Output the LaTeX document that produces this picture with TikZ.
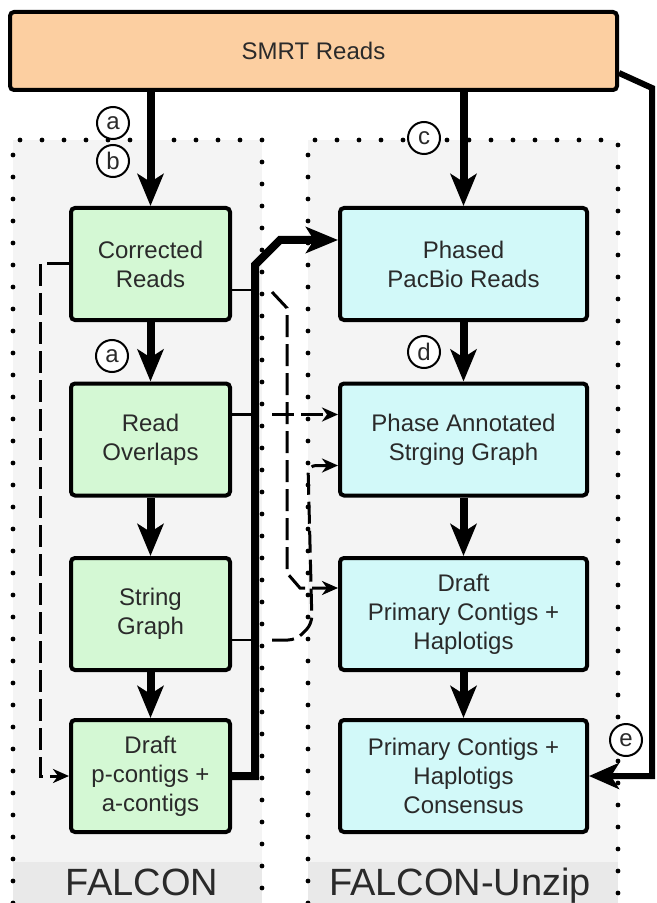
\documentclass[tikz,border=0pt]{standalone}
\usepackage{fontspec}
\setmainfont{Liberation Sans}
\usepackage{xcolor}
\usepackage{tikz}
\usetikzlibrary{arrows.meta,shapes,calc}
\definecolor{smrtOrange}{HTML}{FCCFA1}
\definecolor{falconGreen}{HTML}{D4F8D4}
\definecolor{unzipCyan}{HTML}{D2F9F9}
\definecolor{panelGray}{HTML}{F4F4F4}
\definecolor{labelGray}{HTML}{E9E9E9}
\definecolor{txt}{HTML}{2A2A2A}
\tikzstyle{stage}  = [rectangle,draw,line width=2pt,rounded corners=2pt,text=txt,align=center,font=\fontsize{12}{14.5}\selectfont,minimum height=56pt]
\tikzstyle{falcon} = [stage,fill=falconGreen,minimum width=79.5pt]
\tikzstyle{unzip}  = [stage,fill=unzipCyan,minimum width=123.5pt]
\tikzstyle{tag}    = [circle,draw,fill=white,line width=1pt,inner sep=0pt,minimum size=16pt,text=txt,font=\fontsize{12}{12}\selectfont]
\tikzstyle{flow}   = [line width=4pt,-{Stealth[length=16pt,width=13pt,inset=4pt]}]
\tikzstyle{link}   = [line width=1.5pt,dash pattern=on 11pt off 3.5pt,-{Stealth[length=8pt,width=7pt,inset=2.5pt]}]
\tikzstyle{stub}   = [line width=1.1pt]
\tikzstyle{border} = [line width=2.4pt,line cap=round,dash pattern=on 0pt off 11pt]
\tikzstyle{title}  = [anchor=base,text=txt,font=\fontsize{19}{19}\selectfont]

\begin{document}
\begin{tikzpicture}[x=0.5pt,y=-0.5pt]
	\useasboundingbox (0,0) rectangle (657,903);

	\fill[panelGray] (13,140) rectangle (262,903);
	\fill[panelGray] (308,140) rectangle (618,903);
	\fill[labelGray] (13,862) rectangle (262,903);
	\fill[labelGray] (308,862) rectangle (618,903);
	\draw[border] (13,903) -- (13,140) -- (262,140) -- (262,903);
	\draw[border] (308,903) -- (308,140) -- (618,140) -- (618,903);

	\node[title] (lfalcon) at (142,895) {FALCON};
	\node[title] (lunzip)  at (460,895) {FALCON-Unzip};

	\node[stage,fill=smrtOrange,minimum width=303.5pt,minimum height=39pt] (smrt) at (313.5,51) {SMRT Reads};

	\node[falcon] (cr) at (150.5,264)   {Corrected\\Reads};
	\node[falcon] (ro) at (150.5,439.5) {Read\\Overlaps};
	\node[falcon] (sg) at (150.5,614)   {String\\Graph};
	\node[falcon] (dr) at (150.5,776)   {Draft\\p-contigs +\\a-contigs};

	\node[unzip] (ph) at (463.5,264)   {Phased\\PacBio Reads};
	\node[unzip] (pa) at (463.5,439.5) {Phase Annotated\\Strging Graph};
	\node[unzip] (dp) at (463.5,614)   {Draft\\Primary Contigs +\\Haplotigs};
	\node[unzip] (pc) at (463.5,776)   {Primary Contigs +\\Haplotigs\\Consensus};

	\coordinate (phin) at ($(ph.west)+(0,-24)$);

	\path[flow] (cr.north |- smrt.south) edge (cr);
	\path[flow] (ph.north |- smrt.south) edge (ph);
	\path[flow] (cr) edge (ro);
	\path[flow] (ro) edge (sg);
	\path[flow] (sg) edge (dr);
	\path[flow] (ph) edge (pa);
	\path[flow] (pa) edge (dp);
	\path[flow] (dp) edge (pc);

	\draw[flow] (dr.east) -- (255,776) -- (255,265) -- (280,240) -- (phin);
	\draw[line width=3pt,-{Stealth[length=15pt,width=13pt,inset=4pt]}] ($(smrt.east)+(0,22)$) -- (652,88) -- (652,776) -- (pc.east);

	\draw[link] (cr.west) -- ++(-29,0) |- (dr.west);

	\draw[stub] ($(cr.east)+(0,26)$) -- ++(25,0);
	\draw[stub] ($(ro.east)+(0,-25)$) -- ++(25,0);
	\draw[stub] ($(sg.east)+(0,26)$) -- ++(25,0);

	\draw[link] ($(cr.east)+(40,28)$) -- ++(15,16) -- ++(0,265) -- ++(13,15) -- ($(dp.west)+(0,-26)$);
	\draw[link] ($(ro.east)+(40,-25)$) -- ($(pa.west)+(0,-25)$);
	\draw[link,rounded corners=4pt] ($(sg.east)+(40,26)$) -- ++(24,0) -- ++(16,-16) -- ($(pa.west)+(-30,26)$) -- ($(pa.west)+(0,26)$);

	\node[tag] (ta) at (113,123) {a};
	\node[tag] (tb) at (113,161) {b};
	\node[tag] (tc) at (424,138) {c};
	\node[tag] (taa) at (112,356) {a};
	\node[tag] (td) at (424,352) {d};
	\node[tag] (te) at (626,740) {e};
\end{tikzpicture}
\end{document}
